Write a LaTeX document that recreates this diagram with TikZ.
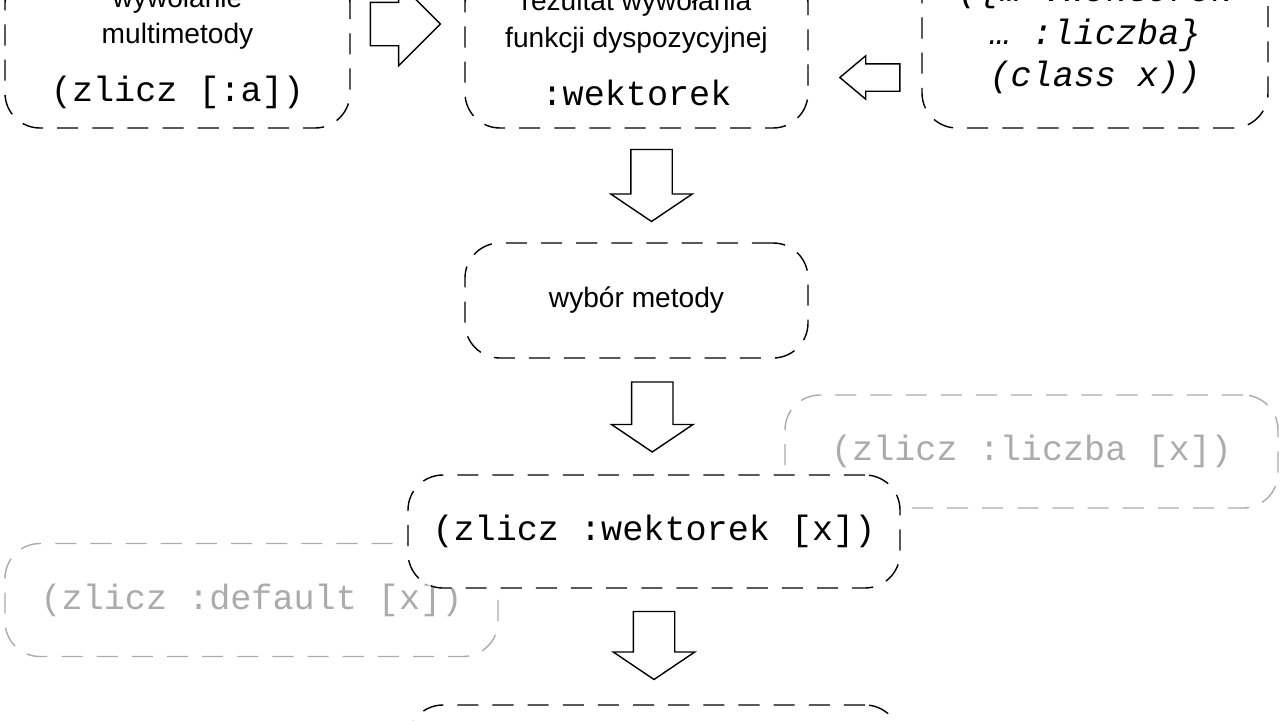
\documentclass[tikz,border=0pt]{standalone}
\usepackage{fontspec}
\setmainfont{Liberation Sans}
\newfontfamily\kodfont{Liberation Mono}
\usetikzlibrary{calc, shapes.arrows}

\newcommand{\kod}{\kodfont\fontsize{20}{24}\selectfont}
\newcommand{\opis}{\fontsize{16}{21}\selectfont}

\tikzset{
  ramka/.style={draw, fill=white, line width=0.8pt, dash pattern=on 12pt off 8pt, rounded corners=7mm, align=center, inner sep=0pt, font=\opis},
  szara/.style={ramka, draw=black!33, text=black!33, font=\kod, minimum width=9.86cm, minimum height=2.26cm},
  strzalka/.style={draw, fill=white, single arrow, line width=0.8pt, inner xsep=0pt, inner ysep=0.4cm, single arrow head extend=0.4cm, minimum width=1.6cm}
}

\begin{document}
\begin{tikzpicture}
    \clip (0,0) rectangle (25.6,-14.4);
    \fill[white] (0,0) rectangle (25.6,-14.4);

    % gorny rzad
    \node[ramka, minimum width=6.9cm, minimum height=3.2cm] (A) at (3.55,-0.96) {wywołanie\\multimetody\\[12pt]{\kod (zlicz [:a])}};
    \node[ramka, minimum width=6.86cm, minimum height=3.2cm] (B) at (12.73,-0.96) {rezultat wywołania\\funkcji dyspozycyjnej\\[12pt]{\kod :wektorek}};
    \node[ramka, minimum width=6.92cm, minimum height=3.32cm] (C) at (21.9,-0.9) {};
    \node[align=center, font=\kod\itshape] (Ctxt) at (21.9,-0.7) {(\{… :wektorek\\… :liczba\}\\(class x))};

    % wybor metody
    \node[ramka, minimum width=6.86cm, minimum height=2.3cm] (D) at (12.73,-6.01) {\raisebox{-3pt}{wybór metody}};

    % metody
    \node[szara] (E) at (20.63,-9.03) {(zlicz :liczba [x])};
    \node[szara] (G) at (5.03,-12.0) {(zlicz :default [x])};
    \node[ramka, font=\kod, minimum width=9.84cm, minimum height=2.26cm] (F) at (13.08,-10.63) {(zlicz :wektorek [x])};
    \node[ramka, minimum width=9.84cm, minimum height=2.26cm] (H) at (13.08,-15.23) {};

    % strzalki
    \node[strzalka, inner ysep=0.42cm, minimum height=1.4cm, minimum width=1.64cm] (s1) at ($(A.east)!0.5!(B.west)+(-0.26,0.48)$) {};
    \node[strzalka, inner ysep=0.26cm, single arrow head extend=0.16cm, single arrow tip angle=80, minimum height=1.2cm, minimum width=0.84cm, shape border rotate=180] (s2) at ($(B.east)!0.5!(C.west)+(0.26,-0.62)$) {};
    \node[strzalka, rotate=-90, single arrow tip angle=112, minimum height=1.44cm] (s3) at ($(B.south)!0.5!(D.north)+(0.3,0.14)$) {};
    \node[strzalka, rotate=-90, single arrow tip angle=112, minimum height=1.4cm] (s4) at ($(D.south)!0.5!(F.north)+(0.14,0.13)$) {};
    \node[strzalka, rotate=-90, single arrow tip angle=112, minimum height=1.36cm] (s5) at ($(F.south)!0.5!(H.north)+(0,0.16)$) {};
\end{tikzpicture}
\end{document}
